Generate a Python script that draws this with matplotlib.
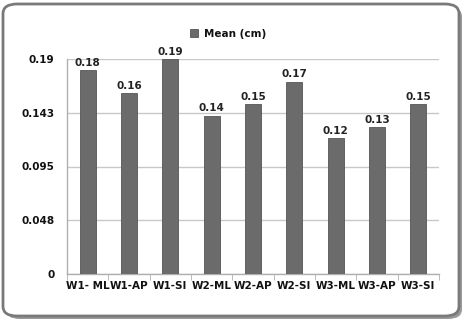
import matplotlib
matplotlib.use("Agg")
import matplotlib.pyplot as plt
from matplotlib.patches import FancyBboxPatch

categories = ["W1- ML", "W1-AP", "W1-SI", "W2-ML", "W2-AP", "W2-SI", "W3-ML", "W3-AP", "W3-SI"]
values = [0.18, 0.16, 0.19, 0.14, 0.15, 0.17, 0.12, 0.13, 0.15]
ytick_vals = [0, 0.0475, 0.095, 0.1425, 0.19]
ytick_labels = ["0", "0.048", "0.095", "0.143", "0.19"]
series_name = "Mean (cm)"

W, H = 467, 322
fig = plt.figure(figsize=(W / 100, H / 100), dpi=100)
fig.patch.set_facecolor("white")

# rounded frame with shadow
shadow = FancyBboxPatch((6 / W, 3 / H), 456 / W, 312 / H,
                        boxstyle="round,pad=0,rounding_size=0.03",
                        transform=fig.transFigure, facecolor="#9a9a9a",
                        edgecolor="none", zorder=0)
frame = FancyBboxPatch((3 / W, 6 / H), 456 / W, 312 / H,
                       boxstyle="round,pad=0,rounding_size=0.03",
                       transform=fig.transFigure, facecolor="white",
                       edgecolor="#7a7a7a", linewidth=2.0, zorder=1)
fig.patches.extend([shadow, frame])

ax = fig.add_axes([67 / W, (H - 274) / H, (439 - 67) / W, (274 - 59) / H])
ax.set_zorder(2)
ax.patch.set_alpha(0)

x = list(range(len(categories)))
bars = ax.bar(x, values, width=0.39, color="#6b6b6b", edgecolor="#555555",
              linewidth=0.6, label=series_name, zorder=3)
for xi, v in zip(x, values):
    ax.text(xi, v + 0.002, f"{v:.2f}", ha="center", va="bottom",
            fontsize=7.5, color="#222222", fontweight="bold", zorder=4)

ax.set_xlim(-0.5, len(categories) - 0.5)
ax.set_ylim(0, 0.19)
ax.set_yticks(ytick_vals)
ax.set_yticklabels(ytick_labels)
ax.set_xticks(x)
ax.set_xticklabels(categories)
ax.set_xticks([i + 0.5 for i in range(-1, len(categories))], minor=True)

ax.yaxis.grid(True, color="#c8c8c8", linewidth=1.0, zorder=0)
ax.set_axisbelow(True)
for s in ["top", "right"]:
    ax.spines[s].set_visible(False)
for s in ["left", "bottom"]:
    ax.spines[s].set_color("#b0b0b0")
    ax.spines[s].set_linewidth(1.0)

ax.tick_params(axis="y", length=0, pad=9, labelsize=7.5, labelcolor="#111111")
for lab in ax.get_yticklabels():
    lab.set_fontweight("bold")
ax.tick_params(axis="x", which="major", length=0, pad=5, labelsize=7.5, labelcolor="#111111")
ax.tick_params(axis="x", which="minor", length=4, color="#b0b0b0", direction="out")
for lab in ax.get_xticklabels():
    lab.set_fontweight("bold")

leg = fig.legend(handles=[bars], labels=[series_name], loc="center",
                 bbox_to_anchor=(228 / W, 1 - 34 / H), frameon=False,
                 prop={"size": 7.5, "weight": "bold"}, handlelength=0.8,
                 handleheight=0.8, handletextpad=0.6)
for t in leg.get_texts():
    t.set_color("#111111")

fig.savefig("out.png", dpi=100, facecolor="white")
